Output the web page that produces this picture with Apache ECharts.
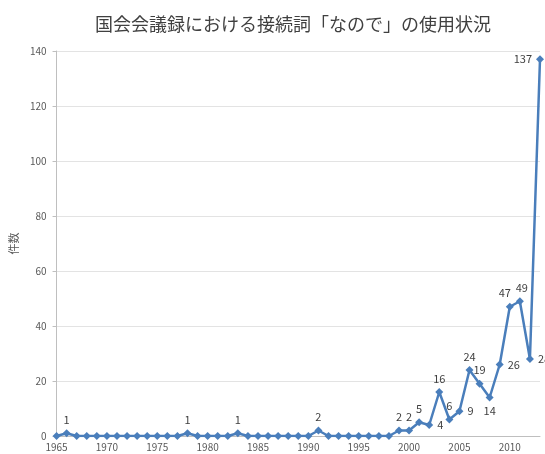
<!DOCTYPE html>
<html>
<head>
<meta charset="utf-8">
<script src="https://cdn.jsdelivr.net/npm/echarts@6/dist/echarts.min.js"></script>
<style>
  html, body { margin: 0; padding: 0; background: #fff; }
  #chart { width: 545px; height: 454px; }
</style>
</head>
<body>
<div id="chart"></div>
<script>
  // 年（1965〜2013）
  var years = [];
  for (var y = 1965; y <= 2013; y++) years.push(String(y));

  // 件数
  var counts = [
    0, 1, 0, 0, 0, 0, 0, 0, 0, 0,      // 1965-1974
    0, 0, 0, 1, 0, 0, 0, 0, 1, 0,      // 1975-1984
    0, 0, 0, 0, 0, 0, 2, 0, 0, 0,      // 1985-1994
    0, 0, 0, 0, 2, 2, 5, 4, 16, 6,     // 1995-2004
    9, 24, 19, 14, 26, 47, 49, 28, 137 // 2005-2013
  ];

  // ラベルの位置（値ごとの例外）
  var labelPos = { '2002': 'right', '2005': 'right', '2008': 'bottom', '2009': 'right', '2012': 'right', '2013': 'left' };

  var chart = echarts.init(document.getElementById('chart'));

  var seriesData = counts.map(function (v, i) {
    var item = { value: v };
    if (v > 0) {
      item.label = { show: true, position: labelPos[years[i]] || 'top' };
      if (years[i] === '2010') item.label.offset = [-5, 0];
      if (years[i] === '2011') item.label.offset = [2, 0];
    }
    return item;
  });

  var option = {
    animation: false,
    textStyle: { fontFamily: '"Noto Sans CJK JP", "Noto Sans", sans-serif' },
    title: {
      text: '国会会議録における接続詞「なので」の使用状況',
      left: 288,
      textAlign: 'center',
      top: 10,
      textStyle: { fontSize: 18, fontWeight: 'normal', color: '#404040', fontFamily: '"Noto Sans CJK JP", sans-serif' }
    },
    grid: { left: 50, right: 5, top: 51, bottom: 18 },
    xAxis: {
      type: 'category',
      data: years,
      boundaryGap: false,
      axisLine: { lineStyle: { color: '#bfbfbf' } },
      axisTick: { show: false },
      axisLabel: { interval: 4, color: '#595959', fontSize: 10, margin: 6 }
    },
    yAxis: {
      type: 'value',
      min: 0,
      max: 140,
      interval: 20,
      name: '件数',
      nameLocation: 'middle',
      nameRotate: 90,
      nameGap: 31,
      nameTextStyle: { color: '#595959', fontSize: 11 },
      axisLine: { show: true, lineStyle: { color: '#bfbfbf' } },
      axisTick: { show: true, length: 4, lineStyle: { color: '#bfbfbf' } },
      axisLabel: { color: '#595959', fontSize: 10, margin: 10 },
      splitLine: { lineStyle: { color: '#e3e3e3' } }
    },
    series: [{
      type: 'line',
      data: seriesData,
      symbol: 'diamond',
      symbolSize: 8,
      showAllSymbol: true,
      lineStyle: { color: '#4a7ebb', width: 2.5 },
      itemStyle: { color: '#4a7ebb' },
      label: { show: false, color: '#404040', fontSize: 11, distance: 4 }
    }]
  };

  chart.setOption(option);
</script>
</body>
</html>
